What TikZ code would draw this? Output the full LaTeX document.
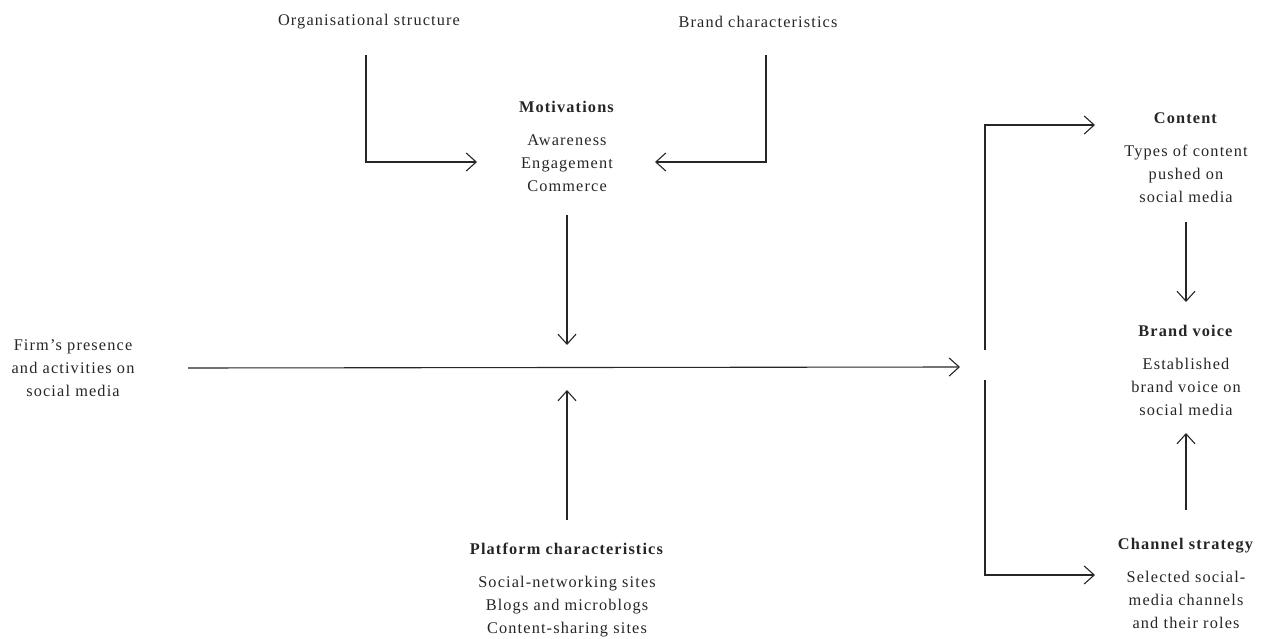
\documentclass[tikz,border=0pt]{standalone}
\usepackage{fontspec}
\setmainfont{Liberation Serif}[LetterSpace=7]
\usetikzlibrary{arrows.meta}
\begin{document}
\begin{tikzpicture}[x=1pt,y=-1pt,
  lbl/.style={align=center,font=\fontsize{16.3}{23}\selectfont,inner sep=0pt,text=black!85},
  conn/.style={line width=1.1pt,draw=black!85},
  arr/.style={conn,-{Straight Barb[length=10pt,width=18pt,line width=1.1pt]}}]
\useasboundingbox (0,0) rectangle (1263,639);

% text blocks
\node[lbl] (org)  at (369,22)  {Organisational structure};
\node[lbl] (brc)  at (758,22)  {Brand characteristics};
\node[lbl] (mot)  at (567,146) {\textbf{Motivations}\\[10pt]Awareness\\Engagement\\Commerce};
\node[lbl] (firm) at (73,368)  {Firm’s presence\\and activities on\\social media};
\node[lbl] (plat) at (567,590) {\textbf{Platform characteristics}\\[10pt]Social-networking sites\\Blogs and microblogs\\Content-sharing sites};
\node[lbl] (cont) at (1186,158) {\textbf{Content}\\[10pt]Types of content\\pushed on\\social media};
\node[lbl] (bv)   at (1186,370) {\textbf{Brand voice}\\[10pt]Established\\brand voice on\\social media};
\node[lbl] (chan) at (1186,583) {\textbf{Channel strategy}\\[10pt]Selected social-\\media channels\\and their roles};

% junctions on the main flow line
\coordinate (meet) at (567,367);
\coordinate (hub)  at (985,367);

% influences on motivations
\draw[arr] ([shift={(-3pt,-33pt)}]org.center) |- ([shift={(-90pt,-16pt)}]mot.center);
\draw[arr] ([shift={(8pt,-33pt)}]brc.center) |- ([shift={(88pt,-16pt)}]mot.center);

% motivations and platforms acting on the main line
\draw[arr] ([yshift=-69pt]mot.center) -- ([yshift=22pt]meet);
\draw[arr] ([yshift=70pt]plat.center) -- ([yshift=-23pt]meet);

% main flow
\draw[arr] ([xshift=115pt]firm.center) -- ([xshift=-25pt]hub);

% split towards content and channel strategy
\draw[arr] ([yshift=17pt]hub) |- ([shift={(-91pt,33pt)}]cont.center);
\draw[arr] ([yshift=-13pt]hub) |- ([shift={(-91pt,8pt)}]chan.center);

% into brand voice
\draw[arr] ([yshift=-64pt]cont.center) -- ([yshift=68pt]bv.center);
\draw[arr] ([yshift=73pt]chan.center) -- ([yshift=-63pt]bv.center);
\end{tikzpicture}
\end{document}
